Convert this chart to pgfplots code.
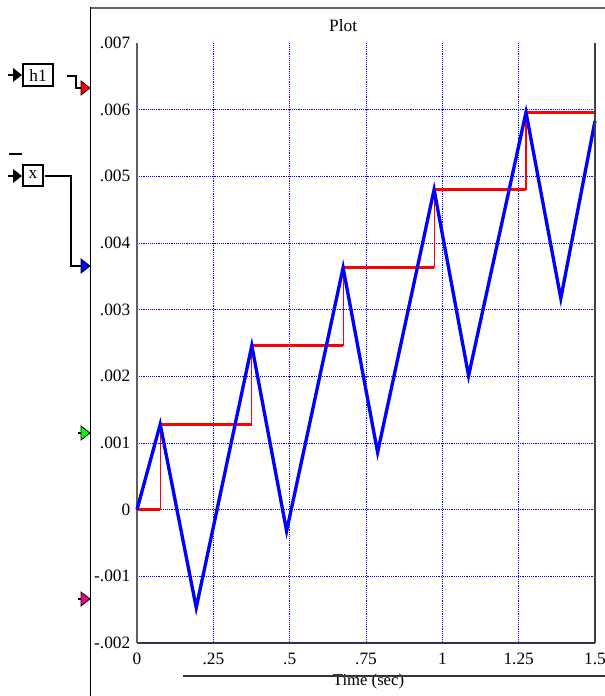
\documentclass[border=0pt]{standalone}
\usepackage{pgfplots}
\pgfplotsset{compat=1.18}
\usepackage{fontspec}
\setmainfont{Liberation Serif}

\pgfplotstableread{
t v
0 0
0.076 0.00128
0.194 -0.00147
0.376 0.00246
0.490 -0.00032
0.675 0.00363
0.788 0.00086
0.973 0.00480
1.086 0.00201
1.274 0.00596
1.388 0.00317
1.5 0.00583
}\xdata

\pgfplotstableread{
t v
0 0
0.076 0.00128
0.376 0.00246
0.675 0.00363
0.973 0.00480
1.274 0.00596
1.5 0.00596
}\hdata

\begin{document}
\fontsize{13}{15}\selectfont
\begin{tikzpicture}
\path[use as bounding box] (0,0) rectangle (453.75pt,522pt);
\begin{axis}[
  at={(102.75pt,39.75pt)}, anchor=south west,
  scale only axis, width=343.5pt, height=450pt,
  xmin=0, xmax=1.5, ymin=-0.002, ymax=0.007,
  axis x line*=bottom, axis y line*=left,
  x axis line style={-, line width=1.5pt, color={rgb,255:red,50;green,50;blue,90}},
  y axis line style={-, line width=1.5pt, color={rgb,255:red,95;green,95;blue,95}},
  scaled y ticks=false, scaled x ticks=false,
  xtick={0,0.25,0.5,0.75,1,1.25,1.5},
  xticklabels={0,.25,.5,.75,1,1.25,1.5},
  ytick={-0.002,-0.001,0,0.001,0.002,0.003,0.004,0.005,0.006},
  yticklabels={-.002,-.001,0,.001,.002,.003,.004,.005,.006},
  extra y ticks={0.007}, extra y tick labels={.007},
  extra y tick style={grid=none},
  grid=major,
  major grid style={blue, densely dotted, line width=0.7pt},
  major tick length=0pt,
  tick label style={font=\fontsize{13}{15}\selectfont},
  xticklabel style={yshift=-3pt},
  yticklabel style={xshift=-0.5pt},
  every axis title shift=0pt,
  title={Plot},
  title style={at={(axis description cs:0.45,1)}, anchor=base, yshift=8.25pt, font=\fontsize{13}{15}\selectfont},
  xlabel={Time (sec)},
  xlabel style={at={(axis description cs:0.5055,0)}, anchor=base, yshift=-32.25pt, font=\fontsize{12.5}{15}\selectfont},
  clip=false,
]
\addplot[red, line width=0.8pt, const plot, forget plot] table[x=t,y=v] {\hdata};
\addplot[red, line width=2.2pt, jump mark left] table[x=t,y=v] {\hdata};
\addplot[blue, line width=2.5pt, line join=miter] table[x=t,y=v] {\xdata};
\draw[line width=1.5pt, black!75] (rel axis cs:1,0) -- (rel axis cs:1,1);
\end{axis}
\begin{scope}[x=0.75pt,y=0.75pt]
  % frame of the panel
  \draw[line width=1.5pt, black!60] (90,688) -- (605,688);
  \draw[line width=1.2pt, black] (90.5,689) -- (90.5,0);
  % h1 block
  \draw[black, line width=0.8pt] (23,610) rectangle (53,632);
  \node at (38,621) {\fontsize{13}{15}\selectfont h1};
  \draw[black, line width=0.8pt] (8,621) -- (13,621);
  \fill[black] (13,614) -- (22,621) -- (13,628) -- cycle;
  \draw[black, line width=0.8pt] (67,620) -- (76,620) -- (76,608) -- (81,608);
  \filldraw[fill=red, draw=black, line width=0.6pt] (81,601) -- (90,608) -- (81,615) -- cycle;
  % overline
  \draw[black, line width=0.8pt] (9,542) -- (22,542);
  % x block
  \draw[black, line width=0.8pt] (23,510) rectangle (43,531);
  \node at (33,521) {\fontsize{13}{15}\selectfont x};
  \draw[black, line width=0.8pt] (8,520) -- (13,520);
  \fill[black] (13,513) -- (22,520) -- (13,527) -- cycle;
  \draw[black, line width=0.8pt] (45,520) -- (71,520) -- (71,430) -- (81,430);
  \filldraw[fill=blue, draw=black, line width=0.6pt] (81,423) -- (90,430) -- (81,437) -- cycle;
  % green and magenta inputs
  \draw[black, line width=0.8pt] (78,263) -- (81,263);
  \filldraw[fill=green, draw=black, line width=0.6pt] (81,256) -- (90,263) -- (81,270) -- cycle;
  \draw[black, line width=0.8pt] (78,97) -- (81,97);
  \filldraw[fill=magenta, draw=black, line width=0.6pt] (81,90) -- (90,97) -- (81,104) -- cycle;
  % line above x label
  \draw[black!80, line width=1pt] (183,20) -- (605,20);
\end{scope}
\end{tikzpicture}
\end{document}
